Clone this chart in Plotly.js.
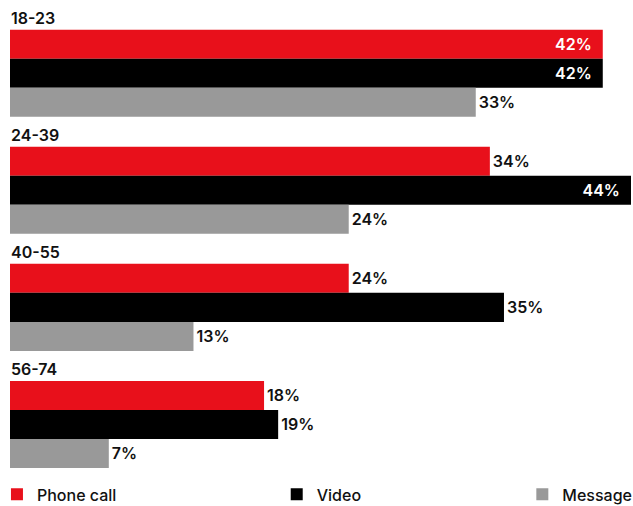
<!DOCTYPE html>
<html><head><meta charset="utf-8">
<script src="https://cdn.plot.ly/plotly-3.0.1.min.js"></script>
<style>html,body{margin:0;padding:0;background:#fff}#chart{width:633px;height:506px}</style>
</head><body><div id="chart"></div>
<script>
const ageGroups = ["18-23", "24-39", "40-55", "56-74"];
const phoneCall = [42, 34, 24, 18];
const video = [42, 44, 35, 19];
const message = [33, 24, 13, 7];
const seriesNames = ["Phone call", "Video", "Message"];
const colors = ["#e8101b", "#000000", "#999999"];
const insideThreshold = 40;

const FONT = "Inter, Roboto, sans-serif";
const seriesData = [phoneCall, video, message];
const legendIds = ["legend", "legend2", "legend3"];

const traces = seriesData.map((vals, i) => ({
  type: "bar",
  orientation: "h",
  name: seriesNames[i],
  y: ageGroups,
  x: vals,
  marker: {color: colors[i]},
  text: vals.map(v => v >= insideThreshold ? v + "%\u00a0\u00a0" : v + "%"),
  textposition: vals.map(v => v >= insideThreshold ? "inside" : "outside"),
  insidetextanchor: "end",
  textangle: 0,
  cliponaxis: false,
  insidetextfont: {color: "#ffffff", size: 16, family: FONT, weight: 600},
  outsidetextfont: {color: "#111111", size: 16, family: FONT, weight: 600},
  hoverinfo: "none",
  legend: legendIds[i]
}));

const legendX = [-0.021, 0.4295, 0.825];
const legendBase = {
  orientation: "h", xref: "paper", yref: "container",
  y: 0.023, yanchor: "middle", xanchor: "left",
  font: {family: FONT, size: 16, color: "#111", weight: 500},
  bgcolor: "rgba(0,0,0,0)", itemwidth: 30
};

const annotations = ageGroups.map((g, i) => ({
  xref: "paper", yref: "y", x: 0, y: i - 0.5 + 0.025,
  xanchor: "left", yanchor: "middle", xshift: -1,
  text: g, showarrow: false,
  font: {family: FONT, size: 16, color: "#111", weight: 600}
}));

const layout = {
  width: 633, height: 506,
  margin: {l: 10, r: 2, t: 3.3, b: 23, autoexpand: false},
  paper_bgcolor: "#fff", plot_bgcolor: "#fff",
  barmode: "group", bargap: 0.256, bargroupgap: 0,
  xaxis: {range: [0, 44], visible: false, fixedrange: true},
  yaxis: {type: "category", range: [3.5, -0.6], visible: false, fixedrange: true},
  showlegend: true,
  legend: Object.assign({}, legendBase, {x: legendX[0]}),
  legend2: Object.assign({}, legendBase, {x: legendX[1]}),
  legend3: Object.assign({}, legendBase, {x: legendX[2]}),
  annotations: annotations
};

Plotly.newPlot("chart", traces, layout, {displayModeBar: false, staticPlot: true});
</script></body></html>
